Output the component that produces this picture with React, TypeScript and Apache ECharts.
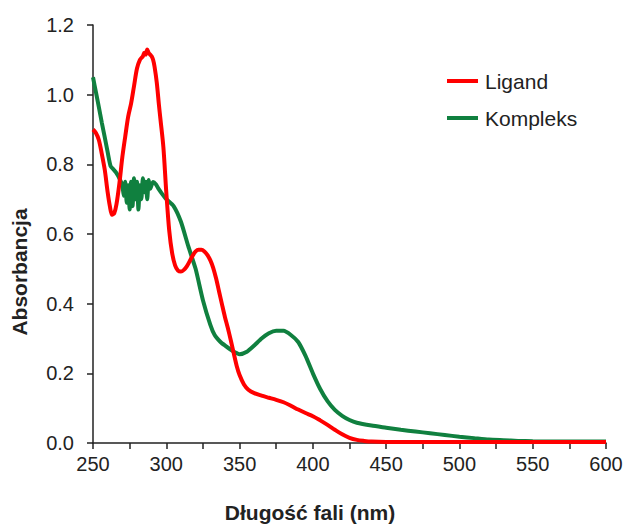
import React, { useEffect, useRef } from "react";
import * as echarts from "echarts";

const xTicks = { min: 250, max: 600, interval: 50 };
const yTicks = { min: 0, max: 1.2, interval: 0.2 };

const ligandWl = [250, 252, 254, 256, 258, 260, 261.5, 263, 264.5, 266, 268, 270, 272, 274, 276, 278, 280, 282, 284, 285, 286, 287, 288, 289, 290, 291, 292, 293.5, 295, 296, 298, 300, 302, 304, 306, 308, 310, 312, 314, 316, 318, 320, 322, 324, 326, 328, 330, 332, 334, 336, 338, 340, 342, 344, 346, 348, 350, 353, 356, 360, 365, 370, 375, 380, 385, 390, 395, 400, 405, 410, 415, 420, 425, 430, 435, 440, 450, 500, 550, 600];
const ligandAbs = [0.9, 0.89, 0.87, 0.83, 0.785, 0.72, 0.68, 0.655, 0.66, 0.685, 0.745, 0.82, 0.88, 0.937, 0.975, 1.025, 1.075, 1.1, 1.11, 1.12, 1.115, 1.13, 1.12, 1.115, 1.11, 1.1, 1.08, 1.035, 0.97, 0.93, 0.85, 0.72, 0.61, 0.545, 0.51, 0.495, 0.492, 0.497, 0.507, 0.522, 0.538, 0.55, 0.555, 0.555, 0.55, 0.54, 0.525, 0.503, 0.472, 0.435, 0.398, 0.362, 0.33, 0.295, 0.258, 0.222, 0.195, 0.168, 0.153, 0.143, 0.136, 0.13, 0.124, 0.117, 0.107, 0.096, 0.086, 0.077, 0.065, 0.052, 0.038, 0.025, 0.015, 0.009, 0.006, 0.004, 0.003, 0.003, 0.003, 0.003];

const complexWl = [250, 252, 254, 256, 258, 260, 262, 264, 266, 268, 270, 271, 272, 273, 274, 275, 276, 277, 278, 279, 280, 281, 282, 283, 284, 285, 286, 287, 288, 289, 291, 293, 295, 297, 300, 305, 310, 315, 320, 325, 330, 333, 337, 340, 345, 350, 355, 360, 365, 370, 375, 380, 385, 390, 395, 400, 405, 410, 415, 420, 425, 430, 440, 450, 460, 470, 480, 490, 500, 510, 520, 530, 540, 550, 575, 600];
const complexAbs = [1.05, 1.007, 0.964, 0.92, 0.878, 0.835, 0.795, 0.785, 0.775, 0.76, 0.74, 0.71, 0.75, 0.69, 0.74, 0.67, 0.75, 0.68, 0.76, 0.7, 0.75, 0.67, 0.74, 0.7, 0.76, 0.72, 0.75, 0.7, 0.755, 0.73, 0.749, 0.742, 0.728, 0.716, 0.7, 0.68, 0.635, 0.565, 0.5, 0.41, 0.34, 0.31, 0.29, 0.28, 0.265, 0.255, 0.262, 0.28, 0.3, 0.315, 0.322, 0.322, 0.31, 0.29, 0.25, 0.2, 0.155, 0.12, 0.095, 0.078, 0.066, 0.058, 0.05, 0.044, 0.038, 0.033, 0.028, 0.023, 0.018, 0.014, 0.01, 0.008, 0.006, 0.005, 0.004, 0.004];

const seriesNames = ["Ligand", "Kompleks"];
const xTitle = "Długość fali (nm)";
const yTitle = "Absorbancja";

const zip = (a: number[], b: number[]) => a.map((v, i) => [v, b[i]]);

const FONT = "Liberation Sans, Arial, Helvetica, sans-serif";

export default function App() {
  const ref = useRef<HTMLDivElement>(null);
  useEffect(() => {
    if (!ref.current) return;
    const chart = echarts.init(ref.current, undefined, { renderer: "svg" });
    chart.setOption({
      animation: false,
      backgroundColor: "#fff",
      grid: { left: 93, right: 21, top: 25, bottom: 84, containLabel: false },
      legend: {
        orient: "vertical",
        left: 442,
        top: 65,
        icon: "rect",
        itemWidth: 31,
        itemHeight: 4,
        itemGap: 15,
        textStyle: { fontFamily: FONT, fontSize: 21, color: "#222", lineHeight: 22, padding: [0, 0, 0, 2] },
        data: seriesNames,
      },
      xAxis: {
        type: "value",
        min: xTicks.min,
        max: xTicks.max,
        interval: xTicks.interval,
        axisLine: { show: true, onZero: false, lineStyle: { color: "#222", width: 1.5 } },
        axisTick: { show: true, inside: false, length: 6, lineStyle: { color: "#222", width: 1.5 } },
        minorTick: { show: true, splitNumber: 2, length: 6, lineStyle: { color: "#222", width: 1.5 } },
        splitLine: { show: false },
        minorSplitLine: { show: false },
        axisLabel: { fontFamily: FONT, fontSize: 20, color: "#222", margin: 11 },
      },
      yAxis: {
        type: "value",
        min: yTicks.min,
        max: yTicks.max,
        interval: yTicks.interval,
        axisLine: { show: true, onZero: false, lineStyle: { color: "#222", width: 1.5 } },
        axisTick: { show: true, inside: false, length: 6, lineStyle: { color: "#222", width: 1.5 } },
        splitLine: { show: false },
        axisLabel: {
          fontFamily: FONT,
          fontSize: 20,
          color: "#222",
          margin: 19,
          formatter: (v: number) => v.toFixed(1),
        },
      },
      graphic: [
        {
          type: "text",
          x: 310,
          y: 512,
          style: {
            text: xTitle,
            font: `bold 21px ${FONT}`,
            fill: "#222",
            textAlign: "center",
            textVerticalAlign: "middle",
          },
        },
        {
          type: "text",
          x: 19,
          y: 272,
          rotation: Math.PI / 2,
          style: {
            text: yTitle,
            font: `bold 21px ${FONT}`,
            fill: "#222",
            textAlign: "center",
            textVerticalAlign: "middle",
          },
        },
      ],
      series: [
        {
          name: seriesNames[0],
          type: "line",
          data: zip(ligandWl, ligandAbs),
          symbol: "none",
          smooth: 0.3,
          itemStyle: { color: "#ff0000" },
          lineStyle: { color: "#ff0000", width: 4 },
          z: 3,
        },
        {
          name: seriesNames[1],
          type: "line",
          data: zip(complexWl, complexAbs),
          symbol: "none",
          smooth: 0.2,
          itemStyle: { color: "#10803f" },
          lineStyle: { color: "#10803f", width: 4 },
          z: 2,
        },
      ],
    });
    return () => chart.dispose();
  }, []);
  return (
    <div
      ref={ref}
      style={{ position: "fixed", left: 0, top: 0, width: 627, height: 527 }}
    />
  );
}
